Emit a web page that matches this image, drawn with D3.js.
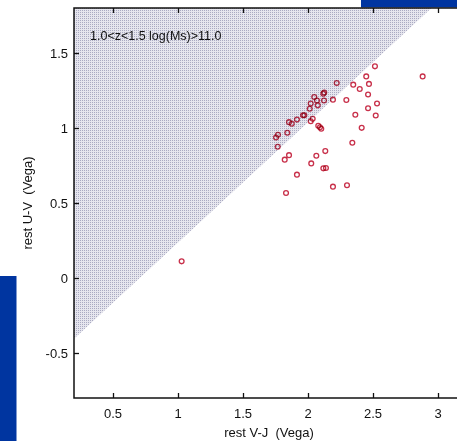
<!DOCTYPE html>
<html>
<head>
<meta charset="utf-8">
<script src="https://cdn.jsdelivr.net/npm/d3@7"></script>
<style>
  html, body { margin: 0; padding: 0; background: #fff; }
  svg { display: block; font-family: "Liberation Sans", Arial, sans-serif; }
</style>
</head>
<body>
<svg id="chart" width="457" height="441"></svg>
<script>
// rest-frame colours of the galaxies (V-J, U-V)
var vj = [2.515, 2.448, 2.882, 2.469, 2.348, 2.398, 2.221, 2.125, 2.118, 2.462,
          2.048, 2.069, 2.123, 2.192, 2.295, 2.021, 2.075, 2.531, 2.013, 2.462,
          1.962, 1.972, 2.364, 2.521, 1.915, 2.036, 2.021, 1.854, 1.875, 2.079,
          2.092, 2.102, 2.413, 1.841, 1.769, 1.754, 1.767, 2.341, 2.133, 1.854,
          1.821, 2.064, 2.025, 1.915, 2.118, 2.138, 2.192, 2.300, 1.831, 1.028];
var uv = [1.411, 1.344, 1.344, 1.294, 1.289, 1.260, 1.300, 1.236, 1.229, 1.223,
          1.207, 1.183, 1.183, 1.189, 1.187, 1.163, 1.151, 1.163, 1.128, 1.132,
          1.085, 1.085, 1.088, 1.083, 1.056, 1.061, 1.045, 1.039, 1.028, 1.015,
          1.005, 0.995, 1.001, 0.968, 0.955, 0.937, 0.875, 0.902, 0.846, 0.819,
          0.789, 0.815, 0.764, 0.689, 0.731, 0.733, 0.609, 0.618, 0.567, 0.111];

// quiescent selection cut (shaded side is above the line)
var cutVJ = [0.2, 2.95];
var cutUV = [-0.405, 1.8];

var xTicks = [0.5, 1, 1.5, 2, 2.5, 3];
var yTicks = [-0.5, 0, 0.5, 1, 1.5];
var xDomain = [0.2, 3.2];
var yDomain = [-0.8, 1.8];
var label = "1.0<z<1.5 log(Ms)>11.0";

var svg = d3.select("#chart"),
    margin = {top: 8, left: 74, bottom: 398, right: 464};

var x = d3.scaleLinear().domain(xDomain).range([margin.left, margin.right]);
var y = d3.scaleLinear().domain(yDomain).range([margin.bottom, margin.top]);

// bits of the slide behind the picture
svg.append("rect").attr("x", 361).attr("y", 0).attr("width", 96).attr("height", 7.5)
   .attr("fill", "#0035a0");
svg.append("rect").attr("x", 0).attr("y", 276).attr("width", 16.5).attr("height", 165)
   .attr("fill", "#0035a0");

// dotted pattern for the shaded region
var defs = svg.append("defs");
var pat = defs.append("pattern").attr("id", "dots")
   .attr("width", 2).attr("height", 2).attr("patternUnits", "userSpaceOnUse");
pat.append("rect").attr("width", 2).attr("height", 2).attr("fill", "#e6e6ee");
pat.append("rect").attr("width", 1).attr("height", 1).attr("fill", "#aaaac2");

var poly = [[cutVJ[0], cutUV[0]], [cutVJ[1], cutUV[1]], [xDomain[0], yDomain[1]]];
svg.append("path")
   .attr("d", d3.line().x(function(d) { return x(d[0]); }).y(function(d) { return y(d[1]); })(poly) + "Z")
   .attr("fill", "url(#dots)");

// points, multiplied onto the shading so they turn purplish inside it
svg.append("g").selectAll("circle")
   .data(vj)
   .enter().append("circle")
   .attr("cx", function(d) { return x(d); })
   .attr("cy", function(d, i) { return y(uv[i]); })
   .attr("r", 2.4)
   .attr("fill", "none")
   .attr("stroke", "#c8304a")
   .attr("stroke-width", 1.3)
   .style("mix-blend-mode", "multiply");

// axes
svg.append("g")
   .attr("transform", "translate(0," + margin.bottom + ")")
   .call(d3.axisTop(x).tickValues(xTicks).tickSize(5).tickFormat(""))
   .call(function(g) { g.select(".domain").remove(); });
svg.append("g")
   .attr("transform", "translate(0," + margin.top + ")")
   .call(d3.axisBottom(x).tickValues(xTicks).tickSize(5).tickFormat(""))
   .call(function(g) { g.select(".domain").remove(); });
svg.append("g")
   .attr("transform", "translate(" + margin.left + ",0)")
   .call(d3.axisRight(y).tickValues(yTicks).tickSize(5).tickFormat(""))
   .call(function(g) { g.select(".domain").remove(); });
svg.selectAll(".tick line").attr("stroke", "#111").attr("stroke-width", 1.3);

// frame
svg.append("rect")
   .attr("x", margin.left).attr("y", margin.top)
   .attr("width", margin.right - margin.left).attr("height", margin.bottom - margin.top)
   .attr("fill", "none").attr("stroke", "#111").attr("stroke-width", 1.5);

// tick labels
svg.append("g").selectAll("text")
   .data(xTicks)
   .enter().append("text")
   .attr("x", function(d) { return x(d); })
   .attr("y", 418)
   .attr("text-anchor", "middle")
   .attr("font-size", 13)
   .attr("fill", "#111")
   .text(function(d) { return d; });
svg.append("g").selectAll("text")
   .data(yTicks)
   .enter().append("text")
   .attr("x", 68)
   .attr("y", function(d) { return y(d) + 4.5; })
   .attr("text-anchor", "end")
   .attr("font-size", 13)
   .attr("fill", "#111")
   .text(function(d) { return d; });

// axis titles
svg.append("text")
   .attr("x", (margin.left + margin.right) / 2).attr("y", 437)
   .attr("text-anchor", "middle").attr("font-size", 13).attr("fill", "#111")
   .style("white-space", "pre")
   .text("rest V-J  (Vega)");
svg.append("text")
   .attr("transform", "translate(32," + (margin.top + margin.bottom) / 2 + ") rotate(-90)")
   .attr("text-anchor", "middle").attr("font-size", 13).attr("fill", "#111")
   .style("white-space", "pre")
   .text("rest U-V  (Vega)");

svg.append("text")
   .attr("x", 90).attr("y", 39.5)
   .attr("font-size", 12.5).attr("fill", "#111")
   .text(label);
</script>
</body>
</html>
